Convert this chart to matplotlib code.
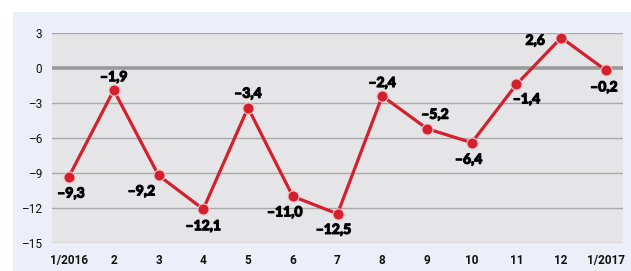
import matplotlib
matplotlib.use("Agg")
import matplotlib.pyplot as plt
from matplotlib.patches import Rectangle
import matplotlib.patheffects as pe

# Data
months = ["1/2016", "2", "3", "4", "5", "6", "7", "8", "9", "10", "11", "12", "1/2017"]
values = [-9.3, -1.9, -9.2, -12.1, -3.4, -11.0, -12.5, -2.4, -5.2, -6.4, -1.4, 2.6, -0.2]
yticks = [3, 0, -3, -6, -9, -12, -15]
# label offsets in pixels (dx, dy)
offsets = [(2, -17), (0, 13), (-17, -16), (0, -17), (0, 14), (-8, -16), (-4, -16),
           (0, 13), (8, 14), (-3, -17), (10, -15), (-26, -3), (-2, -17)]

RED = "#D41F2C"
PANEL = "#ECEFF8"
PLOT = "#E5E5E7"
GRID = "#A9A9A9"

fig = plt.figure(figsize=(6.31, 2.71), dpi=100, facecolor="white")
bg = Rectangle((13/631, 0), 1, 1 - 12/271, transform=fig.transFigure,
               facecolor=PANEL, edgecolor="none", zorder=-10)
fig.patches.append(bg)

ax = fig.add_axes([52/631, 1 - 243/271, (623 - 52)/631, (243 - 33)/271])
ax.set_zorder(5)
ax.set_facecolor(PLOT)
for s in ax.spines.values():
    s.set_visible(False)

x = list(range(len(months)))
ax.set_xlim(-0.38, len(months) - 1 + 0.38)
ax.set_ylim(-15, 3)

for t in yticks:
    if t == 0:
        ax.axhline(t, color="#9A9A9A", lw=2.6, zorder=1)
    else:
        ax.axhline(t, color=GRID, lw=1.0, zorder=1)

ax.plot(x, values, color=RED, lw=2.3, zorder=3,
        marker="o", markersize=8, markerfacecolor=RED,
        markeredgecolor="#F0C8CB", markeredgewidth=0.8)

def fmt(v):
    s = f"{abs(v):.1f}".replace(".", ",")
    return ("–" + s) if v < 0 else s

for xi, v, (dx, dy) in zip(x, values, offsets):
    ax.annotate(fmt(v), (xi, v), xytext=(dx, dy), textcoords="offset pixels",
                ha="center", va="center", fontsize=10, fontweight="bold",
                family="Lato", color="black", zorder=4,
                path_effects=[pe.withStroke(linewidth=0.9, foreground="black")])

ax.set_yticks(yticks)
ax.set_yticklabels([("–" + str(abs(t))) if t < 0 else str(t) for t in yticks],
                   family="Roboto", fontsize=8.5, color="#111111")
ax.set_xticks(x)
ax.set_xticklabels(months, family="Roboto", fontsize=8.5, fontweight="bold", color="#111111")
ax.tick_params(axis="y", length=0, pad=7)
ax.tick_params(axis="x", length=0, pad=8)

fig.savefig("out.png", dpi=100, facecolor="white")
